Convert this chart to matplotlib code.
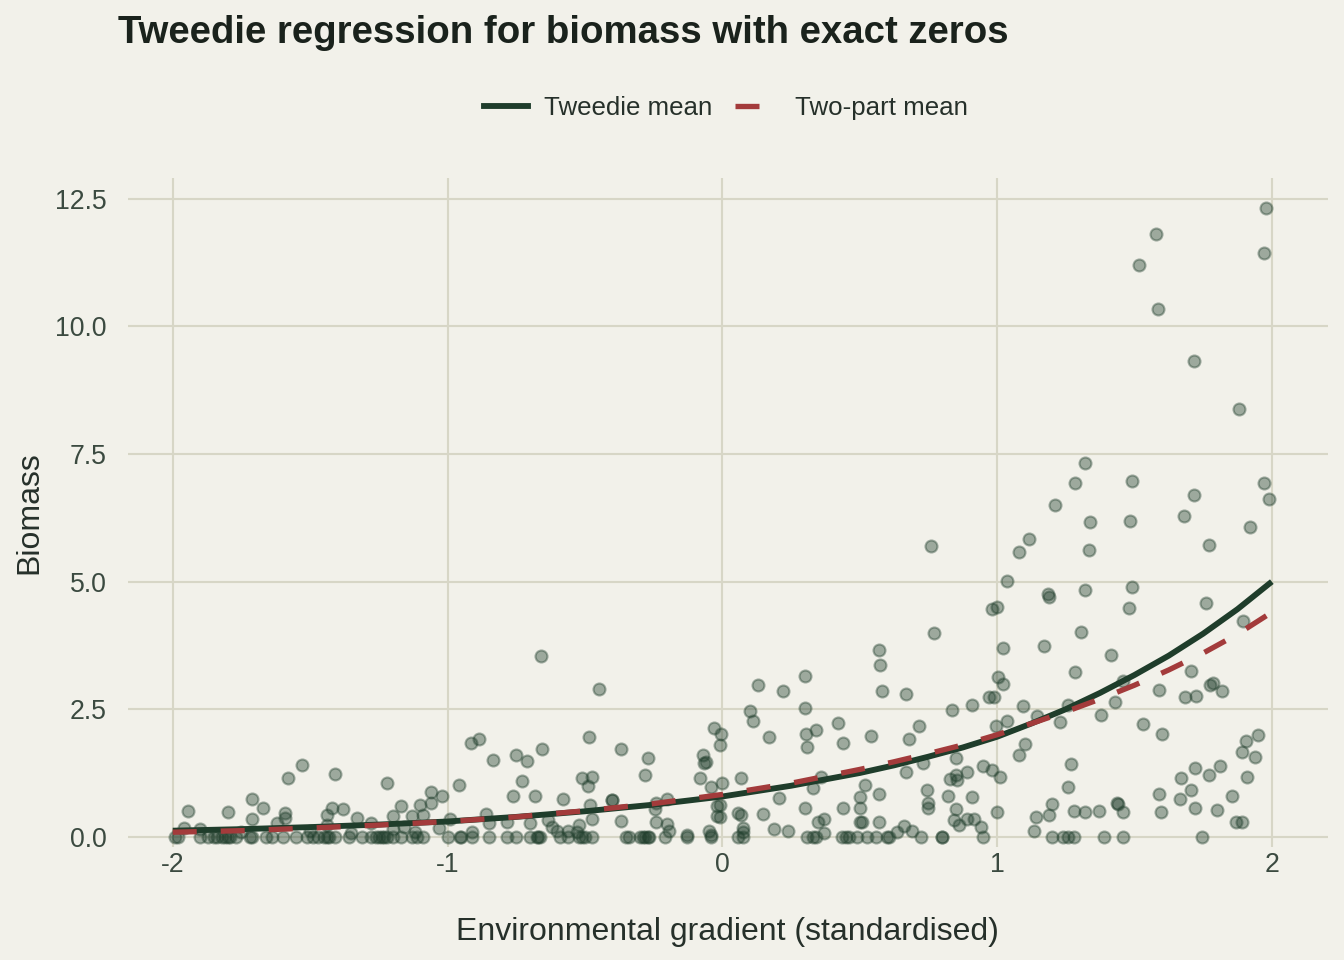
import matplotlib
matplotlib.use("Agg")
import matplotlib.pyplot as plt
from matplotlib.lines import Line2D

plt.rcParams['font.family'] = ['Liberation Sans', 'DejaVu Sans']
plt.rcParams['axes.unicode_minus'] = False

# observations with biomass exactly zero (x only)
x_zero = [-1.99, -1.98, -1.90, -1.87, -1.85, -1.84, -1.82, -1.81, -1.80, -1.79, -1.77, -1.72,
          -1.71, -1.66, -1.64, -1.60, -1.55, -1.51, -1.49, -1.47, -1.45, -1.44, -1.43, -1.41,
          -1.36, -1.31, -1.28, -1.26, -1.25, -1.24, -1.23, -1.22, -1.20, -1.17, -1.13, -1.11,
          -1.09, -1.00, -0.955, -0.95, -0.91, -0.85, -0.785, -0.75, -0.70, -0.675, -0.67,
          -0.665, -0.59, -0.56, -0.52, -0.51, -0.50, -0.475, -0.35, -0.34, -0.30, -0.29, -0.28,
          -0.27, -0.265, -0.21, -0.13, -0.04, 0.056, 0.075, 0.31, 0.33, 0.34, 0.435, 0.45, 0.46,
          0.49, 0.525, 0.56, 0.60, 0.605, 0.725, 0.80, 0.80, 0.95, 1.20, 1.24, 1.26, 1.28,
          1.39, 1.46, 1.745]

# observations with positive biomass
x_pos = [-1.945, -1.80, -1.71, -1.67, -1.71, -1.58, -1.53, -1.59, -1.59, -1.62, -1.96, -1.90,
         -1.75, -1.50, -1.35, -1.20, -1.12,
         -1.41, -1.22, -1.44, -1.42, -1.38, -1.33, -1.28, -1.20, -1.17, -1.13, -1.10, -1.06,
         -1.06, -1.02, -1.09, -0.99, -1.03, -1.44, -1.16,
         -0.66, -0.45, -0.915, -0.885, -0.835, -0.75, -0.71, -0.655, -0.485, -0.37, -0.27,
         -0.28, -0.07, -0.065, -0.06, -0.03, -0.005, -0.01, -0.08, -0.04, 0.0, -0.02, -0.02,
         -0.05, -0.04, -0.13, -0.96, -0.76, -0.73, -0.68, -0.58, -0.51, -0.475, -0.49, -0.40,
         -0.40, -0.48, -0.475, -0.37, -0.24, -0.245, -0.20, -0.24, -0.20, -0.195, -0.86, -0.85,
         -0.785, -0.70, -0.635, -0.62, -0.60, -0.56, -0.52, -0.53, -0.91,
         0.76, 0.77, 0.57, 0.98, 1.0, 0.573, 1.02, 0.13, 0.22, 0.30, 0.30, 0.10, 0.11, 0.17,
         0.305, 0.31, 0.34, 0.42, 0.44, 0.54, 0.58, 0.67, 0.68, 0.715, 0.835, 0.91, 0.97, 0.99,
         1.005, 1.02, 0.995, 1.035, 1.08, 0.067, 0.205, 0.36, 0.33, 0.52, 0.50, 0.57, 0.67,
         0.73, 0.85, 0.85, 0.855, 0.83, 0.89, 0.95, 0.98, 1.01, 0.91, 0.82, 0.745, 0.75, 0.75,
         0.85, 0.845, 0.86, 0.89, 0.915, 0.94, 1.0, 0.067, 0.056, 0.075, 0.075, 0.147, 0.30,
         0.19, 0.24, 0.35, 0.37, 0.37, 0.44, 0.50, 0.50, 0.51, 0.57, 0.66, 0.635, 0.69, -0.01,
         -0.01,
         1.98, 1.58, 1.97, 1.515, 1.585, 1.715, 1.88, 1.32, 1.285, 1.49, 1.97, 1.99, 1.715,
         1.21, 1.34, 1.485, 1.68, 1.92, 1.115, 1.08, 1.335, 1.77, 1.035, 1.185, 1.19, 1.32,
         1.49, 1.48, 1.76, 1.895, 1.305, 1.17, 1.415, 1.285, 1.705, 1.59, 1.685, 1.725, 1.775,
         1.785, 1.82, 1.43, 1.46, 1.095, 1.145, 1.26, 1.23, 1.38, 1.53, 1.60, 1.10, 1.95,
         1.905, 1.89, 1.94, 1.91, 1.27, 1.26, 1.72, 1.67, 1.77, 1.81, 1.705, 1.59, 1.665,
         1.855, 1.72, 1.80, 1.595, 1.20, 1.19, 1.14, 1.28, 1.32, 1.37, 1.435, 1.44, 1.46,
         1.135, 1.87, 1.89]
y_pos = [0.51, 0.49, 0.74, 0.57, 0.35, 1.15, 1.41, 0.47, 0.37, 0.27, 0.18, 0.16,
         0.10, 0.12, 0.08, 0.15, 0.10,
         1.23, 1.05, 0.43, 0.57, 0.55, 0.37, 0.27, 0.41, 0.61, 0.41, 0.63, 0.88,
         0.67, 0.80, 0.43, 0.35, 0.18, 0.24, 0.20,
         3.55, 2.90, 1.84, 1.92, 1.51, 1.61, 1.49, 1.72, 1.96, 1.72, 1.55,
         1.21, 1.61, 1.45, 1.47, 2.14, 2.02, 1.80, 1.16, 0.98, 1.06, 0.61, 0.41,
         0.12, 0.04, 0.04, 1.02, 0.80, 1.10, 0.80, 0.74, 1.16, 1.18, 1.00, 0.72,
         0.73, 0.63, 0.35, 0.31, 0.67, 0.55, 0.74, 0.29, 0.25, 0.12, 0.45, 0.27,
         0.29, 0.27, 0.33, 0.20, 0.12, 0.12, 0.24, 0.10, 0.10,
         5.70, 4.00, 3.66, 4.47, 4.51, 3.37, 3.70, 2.98, 2.86, 3.15, 2.53, 2.47, 2.27, 1.96,
         2.02, 1.76, 2.10, 2.23, 1.84, 1.98, 2.86, 2.80, 1.92, 2.17, 2.49, 2.59, 2.74, 2.74,
         3.13, 3.00, 2.17, 2.27, 1.61, 1.16, 0.76, 1.18, 0.96, 1.02, 0.78, 0.84, 1.27,
         1.45, 1.55, 1.21, 1.12, 1.14, 1.27, 1.39, 1.31, 1.18, 0.78, 0.80, 0.92, 0.67, 0.57,
         0.55, 0.33, 0.24, 0.35, 0.35, 0.20, 0.49, 0.43, 0.47, 0.18, 0.10, 0.45, 0.57,
         0.16, 0.12, 0.29, 0.35, 0.08, 0.57, 0.57, 0.29, 0.29, 0.29, 0.22, 0.10, 0.12, 0.63,
         0.39,
         12.32, 11.81, 11.44, 11.21, 10.34, 9.33, 8.39, 7.33, 6.94, 6.97, 6.94, 6.62, 6.70,
         6.50, 6.17, 6.19, 6.29, 6.07, 5.84, 5.58, 5.62, 5.72, 5.02, 4.76, 4.70, 4.84,
         4.90, 4.49, 4.58, 4.23, 4.02, 3.74, 3.57, 3.23, 3.25, 2.88, 2.74, 2.76, 2.98,
         3.02, 2.86, 2.65, 3.06, 2.57, 2.37, 2.59, 2.25, 2.39, 2.21, 2.02, 1.82, 2.00,
         1.88, 1.67, 1.57, 1.18, 1.43, 0.98, 1.35, 1.16, 1.21, 1.39, 0.92, 0.84, 0.74,
         0.80, 0.57, 0.53, 0.49, 0.65, 0.43, 0.39, 0.51, 0.49, 0.51, 0.67, 0.65, 0.49,
         0.12, 0.29, 0.29]

# fitted mean curves read at the gradient positions
x_curve = [-2.0, -1.75, -1.5, -1.25, -1.0, -0.75, -0.5, -0.25, 0.0, 0.25, 0.5, 0.625,
           0.75, 0.875, 1.0, 1.125, 1.25, 1.375, 1.5, 1.625, 1.75, 1.875, 2.0]
tweedie_mean = [0.12, 0.15, 0.19, 0.24, 0.30, 0.39, 0.50, 0.63, 0.79, 1.00, 1.25, 1.40,
                1.57, 1.75, 1.96, 2.22, 2.50, 2.82, 3.17, 3.55, 3.98, 4.46, 5.00]
twopart_mean = [0.09, 0.12, 0.17, 0.23, 0.30, 0.39, 0.51, 0.65, 0.83, 1.05, 1.32, 1.47,
                1.63, 1.80, 2.00, 2.22, 2.45, 2.70, 2.97, 3.27, 3.60, 3.97, 4.40]

bg = "#F2F1EA"
green = "#1F3D2B"
red = "#A33B3B"
grid_col = "#D7D6C6"

fig = plt.figure(figsize=(7, 5), dpi=192, facecolor=bg)
ax = fig.add_axes([0.095, 0.1177, 0.893, 0.6969])
ax.set_facecolor(bg)

ax.scatter(x_zero, [0.0] * len(x_zero), s=20, color=green, alpha=0.4,
           edgecolors=green, linewidths=0.8, zorder=2)
ax.scatter(x_pos, y_pos, s=20, color=green, alpha=0.4,
           edgecolors=green, linewidths=0.8, zorder=2)
ax.plot(x_curve, tweedie_mean, color=green, lw=2.2, zorder=3, solid_capstyle='butt')
ax.plot(x_curve, twopart_mean, color=red, lw=2.0, dashes=(4.5, 4.5), zorder=4)

ax.set_xlim(-2.164, 2.204)
ax.set_ylim(-0.2, 12.91)
ax.set_xticks([-2, -1, 0, 1, 2])
ax.set_xticklabels(["-2", "-1", "0", "1", "2"])
ax.set_yticks([0, 2.5, 5, 7.5, 10, 12.5])
ax.set_yticklabels(["0.0", "2.5", "5.0", "7.5", "10.0", "12.5"])
ax.grid(True, color=grid_col, lw=0.8, zorder=0)
ax.set_axisbelow(True)
for s in ax.spines.values():
    s.set_visible(False)
ax.tick_params(length=0, labelsize=10, labelcolor="#3B4A40")
ax.tick_params(axis='x', pad=2)
ax.tick_params(axis='y', pad=8)

ax.set_xlabel("Environmental gradient (standardised)", fontsize=12, color="#26302A", labelpad=14.5)
ax.set_ylabel("Biomass", fontsize=12, color="#26302A", labelpad=4)

fig.text(0.088, 0.955, "Tweedie regression for biomass with exact zeros",
         fontsize=14.4, fontweight="bold", color="#1A221C", va="baseline")

handles = [Line2D([], [], color=green, lw=2.2),
           Line2D([], [], color=red, lw=2.0, dashes=(4.5, 4.5))]
fig.legend(handles, ["Tweedie mean", "Two-part mean"], loc="center",
           bbox_to_anchor=(0.54, 0.887), ncol=2, frameon=False, fontsize=9.7,
           handlelength=1.7, handletextpad=0.6, columnspacing=0.9,
           labelcolor="#26302A")

fig.savefig("out.png", dpi=192, facecolor=bg)
